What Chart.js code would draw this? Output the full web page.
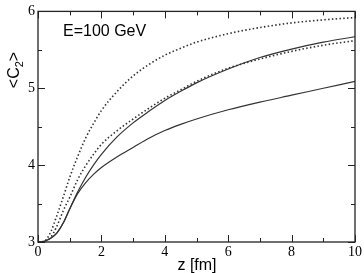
<!DOCTYPE html>
<html>
<head>
<meta charset="utf-8">
<script src="https://cdn.jsdelivr.net/npm/chart.js@4.4.0/dist/chart.umd.min.js"></script>
<style>
  html, body { margin: 0; padding: 0; background: #fff; }
  #wrap { width: 364px; height: 273px; }
</style>
</head>
<body>
<div id="wrap"><canvas id="c2Chart" width="364" height="273"></canvas></div>
<script>
const zVals = [0, 0.2, 0.4, 0.6, 0.8, 1, 1.25, 1.5, 1.75, 2, 2.5, 3, 3.5, 4, 4.5, 5, 6, 7, 8, 9, 10];

// dotted curves
const dottedUpper = [3.0, 3.01, 3.13, 3.35, 3.59, 3.84, 4.11, 4.35, 4.54, 4.71, 4.96, 5.16, 5.31, 5.43, 5.52, 5.6, 5.71, 5.79, 5.85, 5.89, 5.92];
const dottedLower = [3.0, 3.01, 3.06, 3.21, 3.41, 3.58, 3.81, 3.99, 4.14, 4.27, 4.45, 4.6, 4.74, 4.87, 4.98, 5.09, 5.26, 5.38, 5.48, 5.56, 5.62];

// solid curves
const solidUpper = [3.0, 3.01, 3.05, 3.12, 3.25, 3.43, 3.65, 3.84, 4.0, 4.14, 4.37, 4.55, 4.7, 4.84, 4.96, 5.07, 5.25, 5.4, 5.51, 5.6, 5.67];
const solidLower = [3.0, 3.01, 3.05, 3.12, 3.25, 3.43, 3.63, 3.77, 3.88, 3.97, 4.11, 4.23, 4.35, 4.45, 4.53, 4.6, 4.72, 4.82, 4.91, 5.0, 5.09];

const xTickLabels = [0, 2, 4, 6, 8, 10];
const yTickLabels = [3, 4, 5, 6];

const lineColor = '#333';

function toPoints(ys) {
    return zVals.map((z, i) => ({ x: z, y: ys[i] }));
}

function makeSet(label, ys, dotted) {
    return {
        label: label,
        data: toPoints(ys),
        borderColor: lineColor,
        borderWidth: dotted ? 1.6 : 1.2,
        borderDash: dotted ? [1.5, 2.3] : [],
        pointRadius: 0,
        fill: false,
        cubicInterpolationMode: 'monotone'
    };
}

// frame, inward ticks and the text labels
const framePlugin = {
    id: 'frame',
    afterDraw(chart) {
        const ctx = chart.ctx;
        const a = chart.chartArea;
        const xs = chart.scales.x;
        const ys = chart.scales.y;
        ctx.save();
        ctx.strokeStyle = '#222';
        ctx.lineWidth = 1.3;
        ctx.strokeRect(a.left, a.top, a.right - a.left, a.bottom - a.top);

        ctx.lineWidth = 1;
        ctx.beginPath();
        for (let v = 0; v <= 10; v += 1) {
            const px = Math.round(xs.getPixelForValue(v)) + 0.5;
            const len = v % 2 === 0 ? 7 : 4;
            ctx.moveTo(px, a.bottom); ctx.lineTo(px, a.bottom - len);
            ctx.moveTo(px, a.top); ctx.lineTo(px, a.top + len);
        }
        for (let v = 3; v <= 6.001; v += 0.5) {
            const py = Math.round(ys.getPixelForValue(v)) + 0.5;
            const len = Math.abs(v - Math.round(v)) < 0.01 ? 7 : 4;
            ctx.moveTo(a.left, py); ctx.lineTo(a.left + len, py);
            ctx.moveTo(a.right, py); ctx.lineTo(a.right - len, py);
        }
        ctx.stroke();

        ctx.fillStyle = '#000';
        ctx.font = '16px "Liberation Sans", Arial, sans-serif';
        ctx.textBaseline = 'alphabetic';
        ctx.textAlign = 'left';
        ctx.fillText('E=100 GeV', 63, 36);

        ctx.textAlign = 'center';
        ctx.fillText('z [fm]', 197, 270);

        // rotated y title with subscript
        ctx.translate(19, 70);
        ctx.rotate(-Math.PI / 2);
        ctx.textAlign = 'left';
        const w1 = ctx.measureText('<C').width;
        ctx.font = '11px "Liberation Sans", Arial, sans-serif';
        const w2 = ctx.measureText('2').width;
        ctx.font = '16px "Liberation Sans", Arial, sans-serif';
        const w3 = ctx.measureText('>').width;
        const total = w1 + w2 + w3;
        let x0 = -total / 2;
        ctx.fillText('<C', x0, 0);
        ctx.font = '11px "Liberation Sans", Arial, sans-serif';
        ctx.fillText('2', x0 + w1, 4);
        ctx.font = '16px "Liberation Sans", Arial, sans-serif';
        ctx.fillText('>', x0 + w1 + w2, 0);
        ctx.restore();
    }
};

new Chart(document.getElementById('c2Chart').getContext('2d'), {
    type: 'line',
    data: {
        datasets: [
            makeSet('dotted upper', dottedUpper, true),
            makeSet('dotted lower', dottedLower, true),
            makeSet('solid upper', solidUpper, false),
            makeSet('solid lower', solidLower, false)
        ]
    },
    options: {
        responsive: false,
        animation: false,
        devicePixelRatio: 1,
        layout: { padding: { top: 5, right: 8, left: 0, bottom: 0 } },
        plugins: {
            legend: { display: false },
            tooltip: { enabled: false }
        },
        scales: {
            x: {
                type: 'linear',
                min: 0,
                max: 10,
                afterFit(scale) { scale.height = 31; },
                afterBuildTicks(scale) { scale.ticks = xTickLabels.map(v => ({ value: v })); },
                grid: { display: false, drawTicks: false },
                border: { display: false },
                ticks: {
                    padding: 2,
                    color: '#000',
                    maxRotation: 0,
                    font: { family: '"Liberation Serif", "Times New Roman", serif', size: 14 }
                }
            },
            y: {
                type: 'linear',
                min: 3,
                max: 6,
                afterFit(scale) { scale.width = 38; },
                afterBuildTicks(scale) { scale.ticks = yTickLabels.map(v => ({ value: v })); },
                grid: { display: false, drawTicks: false },
                border: { display: false },
                ticks: {
                    padding: 3,
                    color: '#000',
                    font: { family: '"Liberation Serif", "Times New Roman", serif', size: 14 }
                }
            }
        }
    },
    plugins: [framePlugin]
});
</script>
</body>
</html>
